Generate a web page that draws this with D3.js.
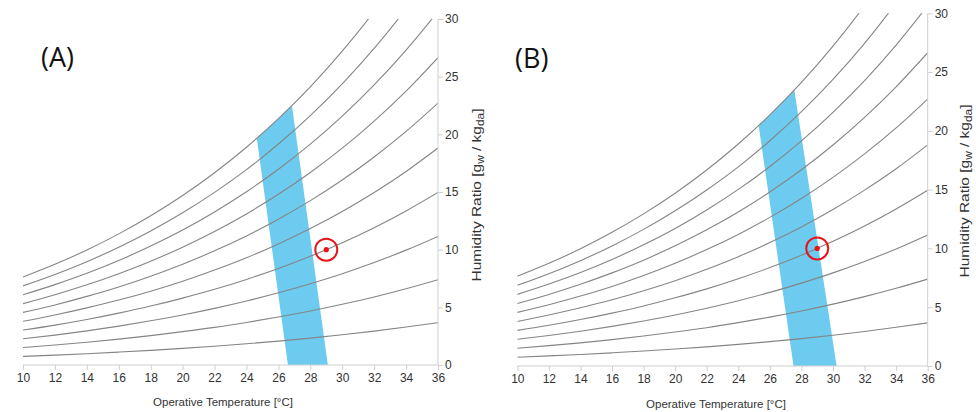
<!DOCTYPE html>
<html>
<head>
<meta charset="utf-8">
<script src="https://cdn.jsdelivr.net/npm/d3@7"></script>
<style>
  html, body { margin: 0; padding: 0; background: #fff; }
  svg { display: block; }
  .tick text { font-family: "Liberation Sans", Arial, sans-serif; font-size: 12px; fill: #333; }
  .axis path, .axis line { stroke: #cfcfcf; }
</style>
</head>
<body>
<svg id="chart" width="976" height="412"></svg>
<script>
// Dry-bulb temperatures (°C) at which the humidity ratio curves are sampled
const temps = [10, 12, 14, 16, 18, 20, 22, 24, 26, 28, 30, 32, 34, 36];

// Humidity ratio (g/kg dry air) along constant relative humidity lines, 10% … 100%
const rh10  = [0.75, 0.86, 0.98, 1.12, 1.27, 1.44, 1.63, 1.84, 2.07, 2.33, 2.62, 2.94, 3.29, 3.67];
const rh20  = [1.51, 1.73, 1.97, 2.24, 2.55, 2.89, 3.26, 3.69, 4.16, 4.68, 5.26, 5.90, 6.61, 7.39];
const rh30  = [2.27, 2.59, 2.96, 3.37, 3.83, 4.34, 4.91, 5.55, 6.26, 7.05, 7.92, 8.89, 9.96, 11.15];
const rh40  = [3.03, 3.46, 3.95, 4.50, 5.11, 5.80, 6.56, 7.42, 8.37, 9.43, 10.61, 11.91, 13.36, 14.96];
const rh50  = [3.79, 4.34, 4.95, 5.63, 6.40, 7.26, 8.23, 9.30, 10.50, 11.83, 13.31, 14.96, 16.78, 18.81];
const rh60  = [4.56, 5.21, 5.95, 6.77, 7.70, 8.74, 9.90, 11.19, 12.64, 14.25, 16.04, 18.04, 20.25, 22.71];
const rh70  = [5.32, 6.09, 6.95, 7.92, 9.00, 10.22, 11.58, 13.10, 14.80, 16.69, 18.80, 21.15, 23.75, 26.65];
const rh80  = [6.09, 6.97, 7.95, 9.06, 10.31, 11.70, 13.27, 15.02, 16.97, 19.15, 21.58, 24.28, 27.30, 30.65];
const rh90  = [6.86, 7.85, 8.96, 10.21, 11.62, 13.20, 14.97, 16.94, 19.16, 21.63, 24.38, 27.45, 30.88, 34.69];
const rh100 = [7.63, 8.73, 9.97, 11.37, 12.94, 14.70, 16.67, 18.88, 21.36, 24.12, 27.21, 30.65, 34.50, 38.79];

// Comfort zones: [temperature °C, humidity ratio g/kg] vertices
const zoneA = [[26.6, 0], [29.1, 0], [26.85, 22.48], [26.0, 21.36], [25.0, 20.09], [24.65, 19.63]];
const zoneB = [[27.5, 0], [30.23, 0], [27.55, 23.47], [27.0, 22.70], [26.0, 21.36], [25.29, 20.45]];

// Evaluated condition [temperature °C, humidity ratio g/kg]
const pointA = [29, 10];
const pointB = [29, 10];

// Axis ticks and labels
const xTicks = [10, 12, 14, 16, 18, 20, 22, 24, 26, 28, 30, 32, 34, 36];
const yTicks = [0, 5, 10, 15, 20, 25, 30];
const panelLabels = ["(A)", "(B)"];
const xTitle = "Operative Temperature [°C]";

const rhCurves = [rh10, rh20, rh30, rh40, rh50, rh60, rh70, rh80, rh90, rh100];

const svg = d3.select("#chart");

const panels = [
  { label: panelLabels[0], xr: [23, 438], yr: [365, 19], zone: zoneA, point: pointA,
    labelX: 41, labelY: 67, xTitleX: 223, xTitleY: 406, yTitleX: 481, yTitleY: 195 },
  { label: panelLabels[1], xr: [517.3, 927.7], yr: [366, 13.3], zone: zoneB, point: pointB,
    labelX: 515, labelY: 68, xTitleX: 716, xTitleY: 408, yTitleX: 969, yTitleY: 191 }
];

panels.forEach((p, i) => {
  const x = d3.scaleLinear().domain([10, 36]).range(p.xr);
  const y = d3.scaleLinear().domain([0, 30]).range(p.yr);
  const g = svg.append("g");

  const clipId = "plot-clip-" + i;
  svg.append("clipPath").attr("id", clipId)
    .append("rect")
    .attr("x", p.xr[0]).attr("y", p.yr[1])
    .attr("width", p.xr[1] - p.xr[0]).attr("height", p.yr[0] - p.yr[1]);

  // comfort zone
  g.append("path")
    .attr("d", d3.line().x(d => x(d[0])).y(d => y(d[1]))(p.zone) + "Z")
    .attr("fill", "#6ccbef");

  // constant relative humidity curves
  const line = d3.line()
    .x((d, k) => x(temps[k]))
    .y(d => y(d))
    .curve(d3.curveMonotoneX);
  g.append("g").attr("clip-path", `url(#${clipId})`)
    .selectAll("path").data(rhCurves).join("path")
    .attr("d", line)
    .attr("fill", "none")
    .attr("stroke", "#858585")
    .attr("stroke-width", 1.1);

  // axes
  g.append("g").attr("class", "axis")
    .attr("transform", `translate(0,${p.yr[0]})`)
    .call(d3.axisBottom(x).tickValues(xTicks).tickSize(5).tickPadding(3).tickFormat(d3.format("d")))
    .call(a => a.select(".domain").attr("d", `M${p.xr[0]},0H${p.xr[1]}`));
  g.append("g").attr("class", "axis")
    .attr("transform", `translate(${p.xr[1]},0)`)
    .call(d3.axisRight(y).tickValues(yTicks).tickSize(5).tickPadding(2).tickFormat(d3.format("d")))
    .call(a => a.select(".domain").attr("d", `M0,${p.yr[1]}V${p.yr[0]}`));

  // evaluated point
  g.append("circle")
    .attr("cx", x(p.point[0])).attr("cy", y(p.point[1])).attr("r", 11)
    .attr("fill", "none").attr("stroke", "#e8141c").attr("stroke-width", 2);
  g.append("circle")
    .attr("cx", x(p.point[0])).attr("cy", y(p.point[1])).attr("r", 2.6)
    .attr("fill", "#e8141c");

  // panel label
  g.append("text")
    .attr("x", p.labelX).attr("y", p.labelY)
    .attr("font-family", "'Open Sans', 'Noto Sans', sans-serif")
    .attr("font-size", 27).attr("fill", "#111")
    .text(p.label);

  // axis titles
  g.append("text")
    .attr("x", p.xTitleX).attr("y", p.xTitleY)
    .attr("text-anchor", "middle")
    .attr("font-family", "'Liberation Sans', Arial, sans-serif")
    .attr("font-size", 11.5).attr("fill", "#333")
    .text(xTitle);

  const yt = g.append("text")
    .attr("transform", `translate(${p.yTitleX},${p.yTitleY}) rotate(-90) scale(1.19,1)`)
    .attr("text-anchor", "middle")
    .attr("font-family", "'Liberation Sans', Arial, sans-serif")
    .attr("font-size", 13).attr("fill", "#333");
  yt.append("tspan").text("Humidity Ratio [g");
  yt.append("tspan").attr("font-size", 10).attr("dy", 3).text("w");
  yt.append("tspan").attr("dy", -3).text(" / kg");
  yt.append("tspan").attr("font-size", 10).attr("dy", 3).text("da");
  yt.append("tspan").attr("dy", -3).text("]");
});
</script>
</body>
</html>
